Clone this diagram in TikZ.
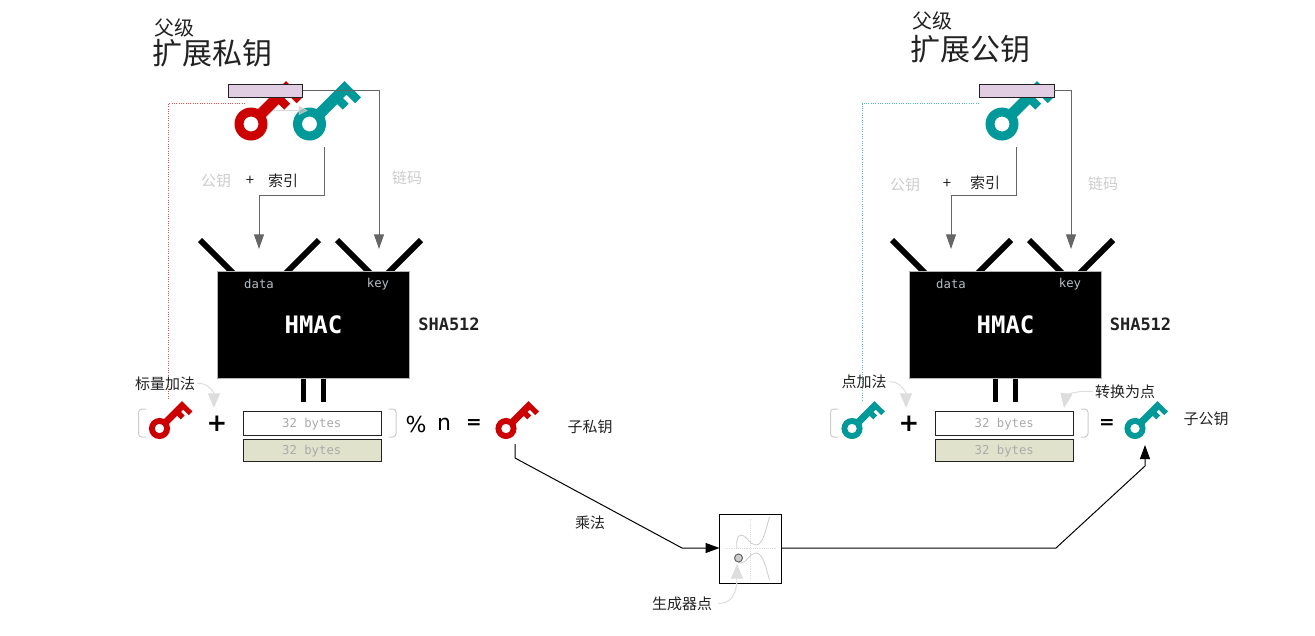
\documentclass[tikz,border=0pt]{standalone}
\usepackage{fontspec}
\setmainfont{Noto Sans CJK SC}
\setsansfont{DejaVu Sans}
\newfontfamily\monof{DejaVu Sans Mono}
\usetikzlibrary{arrows.meta}
\definecolor{keyred}{HTML}{CC0000}
\definecolor{keyteal}{HTML}{009999}
\definecolor{pinkbar}{HTML}{E1CEE3}
\definecolor{khaki}{HTML}{E1E2CB}
\definecolor{ink}{HTML}{222222}
\definecolor{arrowgray}{HTML}{666666}
\definecolor{softgray}{HTML}{CCCCCC}
\definecolor{hintgray}{HTML}{DDDDDD}
\definecolor{bytegray}{HTML}{AAAAAA}
\definecolor{portgray}{HTML}{B4BEC4}
\definecolor{dotred}{HTML}{E85050}
\definecolor{dotteal}{HTML}{55BBB0}
\newcommand\keyglyph[4]{%
  \begin{scope}[shift={(#1,#2)},scale=#3]
    \fill[#4,even odd rule] (0,0) circle[radius=16.5] (0,0) circle[radius=7.5];
    \fill[#4] (4.6,-12.4) -- (35,-42.8) -- (51.5,-26.7) -- (45.7,-20.8) -- (37.1,-29.4)
      -- (33.5,-25.9) -- (39.1,-20.3) -- (33.2,-14.4) -- (27.7,-19.9) -- (12.4,-4.6) -- cycle;
  \end{scope}}
\tikzset{
  pxbox/.style 2 args={minimum width=#1*0.75pt,minimum height=#2*0.75pt,inner sep=0pt,outer sep=0pt},
  txt/.style={font=\fontsize{11.25pt}{13pt}\selectfont,text=ink,inner sep=0pt},
  faint/.style={font=\fontsize{11.25pt}{13pt}\selectfont,text=softgray,inner sep=0pt},
  small/.style={font=\fontsize{15pt}{17pt}\selectfont,text=ink,inner sep=0pt},
  big/.style={font=\fontsize{22.5pt}{25pt}\selectfont,text=ink,inner sep=0pt},
  sym/.style={font=\sffamily\fontsize{16.5pt}{18pt}\selectfont,text=black,inner sep=0pt},
  symb/.style={font=\sffamily\bfseries\fontsize{14pt}{16pt}\selectfont,text=black,inner sep=0pt},
  plus/.style={font=\sffamily\bfseries\fontsize{18.5pt}{20pt}\selectfont,text=black,inner sep=0pt},
  monolabel/.style={font=\monof\fontsize{9.2pt}{11pt}\selectfont,text=#1,inner sep=0pt},
  hmacbox/.style={pxbox={192}{107},fill=black,draw=gray!60,line width=.5pt},
  barbox/.style={pxbox={74.5}{13},fill=pinkbar,draw=ink,line width=.75pt},
  bytebox/.style={pxbox={138.5}{#1},draw=ink,line width=.75pt},
  flow/.style={arrowgray,line width=.75pt,-{Triangle[length=11pt,width=7.5pt]}},
  mainflow/.style={black,line width=.75pt,-{Triangle[length=10.5pt,width=7.5pt]}},
  hint/.style={hintgray,line width=.75pt,-{Triangle[length=11pt,width=9pt]}},
  dotline/.style={densely dotted,line width=.75pt},
  vbar/.style={black,line width=4.5pt},
  bracket/.style={softgray,line width=.75pt,rounded corners=2.5pt},
}
\newcommand\hmacpart[1]{%
  \begin{scope}[xshift=#1*0.75pt]
    \draw[vbar] (200,240) -- (233,273);
    \draw[vbar] (319,240) -- (286,273);
    \draw[vbar] (337,240) -- (370,273);
    \draw[vbar] (421,240) -- (388,273);
    \fill[black] (300.7,377) rectangle (306.3,402);
    \fill[black] (320.7,377) rectangle (326.3,402);
  \end{scope}}
\begin{document}
\begin{tikzpicture}[x=0.75pt,y=-0.75pt]
\useasboundingbox (0,0) rectangle (1315,636);
% titles
\node[small] (t1a) at (174.5,28) {父级};
\node[big] (t1b) at (212,53) {扩展私钥};
\node[small] (t2a) at (932.5,21) {父级};
\node[big] (t2b) at (970,49) {扩展公钥};
% left dotted
\coordinate (dl1) at (245,103.5);
\coordinate (dl2) at (168.5,103.5);
\coordinate (dl3) at (168.5,400);
\draw[dotline,dotred] (dl1) -- (dl2) -- (dl3);
\coordinate (dr1) at (979,103.5);
\coordinate (dr2) at (862,103.5);
\coordinate (dr3) at (862,400);
\draw[dotline,dotteal] (dr1) -- (dr2) -- (dr3);
% parent keys
\keyglyph{251}{124}{1}{keyred}
\keyglyph{309.5}{124}{1}{keyteal}
\keyglyph{1002}{124}{1}{keyteal}
\coordinate (ga) at (274,110.5);
\coordinate (gb) at (308,110.5);
\draw[softgray,opacity=.7,line width=.75pt,-{Triangle[length=7pt,width=7pt]}] (ga) -- (gb);
% bars
\node[barbox] (barL) at (265.25,90.5) {};
\node[barbox] (barR) at (1016.75,90.5) {};
% HMAC
\hmacpart{0}
\hmacpart{692}
\node[hmacbox] (hL) at (313,324.5) {};
\node[hmacbox] (hR) at (1005,324.5) {};
\node[monolabel=portgray] (dL) at (259,284) {data};
\node[monolabel=portgray] (kL) at (378,284.5) {key};
\node[monolabel=portgray] (dR) at (951,284) {data};
\node[monolabel=portgray] (kR) at (1070,284.5) {key};
\node[font=\monof\bfseries\fontsize{18pt}{20pt}\selectfont,text=white,inner sep=0pt] (mL) at (313.5,325) {HMAC};
\node[font=\monof\bfseries\fontsize{18pt}{20pt}\selectfont,text=white,inner sep=0pt] (mR) at (1005.5,325) {HMAC};
\node[font=\monof\bfseries\fontsize{12.75pt}{14pt}\selectfont,text=ink,inner sep=0pt] (sL) at (449,324.5) {SHA512};
\node[font=\monof\bfseries\fontsize{12.75pt}{14pt}\selectfont,text=ink,inner sep=0pt] (sR) at (1140.5,324.5) {SHA512};
% flows into HMAC
\coordinate (a1) at (324.5,147);
\coordinate (a2) at (324.5,195);
\coordinate (a3) at (259,195);
\coordinate (a4) at (259,249);
\draw[flow] (a1) -- (a2) -- (a3) -- (a4);
\coordinate (b1) at (379,90.5);
\coordinate (b2) at (379,249);
\draw[flow] (barL.east) -- (b1) -- (b2);
\coordinate (c1) at (1016,147);
\coordinate (c2) at (1016,195);
\coordinate (c3) at (951,195);
\coordinate (c4) at (951,249);
\draw[flow] (c1) -- (c2) -- (c3) -- (c4);
\coordinate (e1) at (1071,90.5);
\coordinate (e2) at (1071,249);
\draw[flow] (barR.east) -- (e1) -- (e2);
% labels
\node[faint] (l1) at (216,181) {公钥};
\node[txt] (l2) at (250,180.5) {+};
\node[txt] (l3) at (283,180.5) {索引};
\node[faint] (l4) at (407,178) {链码};
\node[faint] (r1) at (905,185) {公钥};
\node[txt] (r2) at (947,183.5) {+};
\node[txt] (r3) at (985,182.5) {索引};
\node[faint] (r4) at (1103,184) {链码};
% byte boxes
\node[bytebox=24,fill=white] (bL1) at (312.25,423) {};
\node[bytebox=22,fill=khaki] (bL2) at (312.25,450.5) {};
\node[bytebox=24,fill=white] (bR1) at (1004.25,423) {};
\node[bytebox=22,fill=khaki] (bR2) at (1004.25,450.5) {};
\node[monolabel=bytegray] at (311.75,423.8) {32 bytes};
\node[monolabel=bytegray] at (311.75,451.3) {32 bytes};
\node[monolabel=bytegray] at (1004.25,423.8) {32 bytes};
\node[monolabel=bytegray] at (1004.25,451.3) {32 bytes};
% brackets
\draw[bracket] (146,409) -- (138.5,409) -- (138.5,437) -- (146,437);
\draw[bracket] (389,409) -- (396,409) -- (396,437) -- (389,437);
\draw[bracket] (838,409) -- (830.5,409) -- (830.5,437) -- (838,437);
\draw[bracket] (1081,409) -- (1088,409) -- (1088,437) -- (1081,437);
% small keys
\keyglyph{159.5}{428.5}{0.64}{keyred}
\keyglyph{506}{428.5}{0.64}{keyred}
\keyglyph{852}{428.5}{0.64}{keyteal}
\keyglyph{1135}{428.5}{0.64}{keyteal}
% symbols
\node[plus] (p1) at (217,423.5) {+};
\node[plus] (p2) at (909,423.5) {+};
\node[sym] (pc) at (416,424) {\%};
\node[sym] (nn) at (444,424) {n};
\node[symb] (e1n) at (474,424) {=};
\node[symb] (e2n) at (1107,423.5) {=};
\node[txt] (cpriv) at (590,427) {子私钥};
\node[txt] (cpub) at (1206,419) {子公钥};
\node[txt] (h1) at (165,383.5) {标量加法};
\node[txt] (h2) at (864,382) {点加法};
\node[txt] (h3) at (1125,391.5) {转换为点};
\node[txt] (h4) at (682,603.5) {生成器点};
\node[txt] (h5) at (590,522.5) {乘法};
% hints
\coordinate (ht1) at (214,408);
\coordinate (ht2) at (906,408);
\coordinate (ht3) at (1064,408);
\draw[hint] (h1.east)+(2,0) .. controls (207,382) and (214,392) .. (ht1);
\draw[hint] (h2.east)+(2,0) .. controls (899,380) and (906,392) .. (ht2);
\draw[hint] (h3.west)+(-2,0) .. controls (1075,390) and (1066,396) .. (ht3);
% generator box
\node[pxbox={62}{69},draw=black,fill=white,line width=.75pt] (gen) at (750.5,549) {};
\draw[hintgray,line width=.4pt,densely dotted] (725,548.5) -- (776,548.5);
\draw[hintgray,line width=.4pt,densely dotted] (750,519) -- (750,579);
\draw[softgray,line width=.6pt] (769.5,517) .. controls (766,529) and (763,545) .. (756,545)
  .. controls (749,545) and (747,535) .. (741,535) .. controls (736,535) and (736.5,545) .. (737,549);
\draw[softgray,line width=.6pt] (769.5,580) .. controls (766,568) and (763,553) .. (756,553)
  .. controls (749,553) and (747,563) .. (741,563) .. controls (738,563) and (737,560) .. (737,556);
\node[circle,minimum size=6pt,inner sep=0pt,fill=softgray,draw=arrowgray,line width=.75pt] (gp) at (738.5,558) {};
\coordinate (gt) at (737,564);
\draw[hint] (h4.east)+(6,0) .. controls (732,604) and (737,592) .. (gt);
% main flow
\coordinate (m1) at (515,444);
\coordinate (m2) at (515,458);
\coordinate (m3) at (682,548);
\draw[mainflow] (m1) -- (m2) -- (m3) -- (gen.west |- m3);
\coordinate (n1) at (1056,548);
\coordinate (n2) at (1145,466);
\coordinate (n3) at (1145,445);
\draw[mainflow] (gen.east |- n1) -- (n1) -- (n2) -- (n3);
\end{tikzpicture}
\end{document}
